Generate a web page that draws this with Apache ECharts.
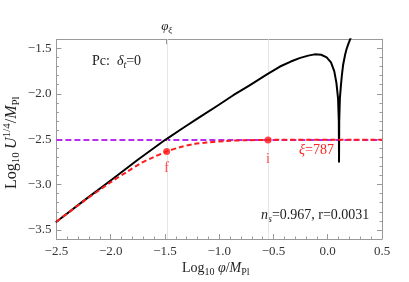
<!DOCTYPE html>
<html><head><meta charset="utf-8">
<script src="https://cdn.jsdelivr.net/npm/echarts@6/dist/echarts.min.js"></script>
<style>html,body{margin:0;padding:0;background:#fff}#c{width:409px;height:282px}</style>
</head><body><div id="c"></div>
<script>
const xRange = [-2.5, 0.5];
const yRange = [-3.6, -1.4];
const yMajorTicks = [-3.5, -3.0, -2.5, -2.0, -1.5];
const phiXi = -1.484;
const blackX = [-2.5,-2.25,-2.0,-1.75,-1.5,-1.33,-1.18,-1.02,-0.87,-0.72,-0.56,-0.44,-0.34,-0.26,-0.18,-0.12,-0.06,-0.01,0.03,0.06,0.08,0.095,0.102,0.104,0.106,0.112,0.12,0.13,0.142,0.16,0.173,0.19,0.213,0.25];
const blackY = [-3.41,-3.18,-2.955,-2.727,-2.51,-2.374,-2.257,-2.135,-2.016,-1.907,-1.786,-1.70,-1.645,-1.607,-1.58,-1.566,-1.57,-1.60,-1.655,-1.75,-1.88,-2.05,-2.3,-2.75,-2.3,-2.05,-1.93,-1.80,-1.68,-1.57,-1.51,-1.45,-1.38,-1.28];
const redX = [-2.5,-2.25,-2.0,-1.85,-1.73,-1.608,-1.484,-1.362,-1.24,-1.116,-0.932,-0.748,-0.55,0.5];
const redY = [-3.41,-3.185,-2.975,-2.86,-2.77,-2.70,-2.636,-2.59,-2.555,-2.537,-2.52,-2.512,-2.508,-2.506];
const plateauY = -2.508;
const pointNames = ['f', 'i'];
const pointX = [-1.484, -0.55];
const pointY = [-2.636, -2.508];

const serif = '"Liberation Serif","DejaVu Serif",serif';
const frame = '#9a9a9a';
const zip = (a, b) => a.map((v, i) => [v, b[i]]);
const isMajor = v => Math.abs(v * 2 - Math.round(v * 2)) < 1e-6;
const fmt = v => (v < -1e-9 ? '\u2212' : '') + Math.abs(v).toFixed(1);

function rich(size, color) {
  const sub = Math.round(size * 0.7);
  return {
    n: {fontFamily: serif, fontSize: size, color, fill: color, lineHeight: size + 4},
    i: {fontFamily: serif, fontSize: size, fontStyle: 'italic', color, fill: color, lineHeight: size + 4},
    s: {fontFamily: serif, fontSize: sub, color, fill: color, lineHeight: 4, verticalAlign: 'bottom'},
    si: {fontFamily: serif, fontSize: sub, fontStyle: 'italic', color, fill: color, lineHeight: 4, verticalAlign: 'bottom'},
    sup: {fontFamily: serif, fontSize: sub, color, fill: color, lineHeight: 6, verticalAlign: 'top'}
  };
}

function yAxisPair(pos, labels) {
  return [{
    type: 'value', position: pos, min: yRange[0], max: yRange[1], interval: 0.1,
    axisLine: {show: true, onZero: false, lineStyle: {color: frame, width: 1}},
    axisTick: {show: true, inside: true, length: 2.5, lineStyle: {color: frame}},
    axisLabel: {show: labels, formatter: v => isMajor(v) ? fmt(v) : '', fontFamily: serif, fontSize: 13, color: '#333', margin: 5},
    splitLine: {show: false}
  }, {
    type: 'value', position: pos, min: yRange[0], max: yRange[1],
    axisLine: {show: false, onZero: false},
    axisTick: {show: true, inside: true, length: 5, customValues: yMajorTicks, lineStyle: {color: frame}},
    axisLabel: {show: false},
    splitLine: {show: false}
  }];
}

const chart = echarts.init(document.getElementById('c'), null, {renderer: 'canvas'});
chart.setOption({
  animation: false,
  grid: {left: 56.4, right: 27, top: 39.3, bottom: 43, containLabel: false},
  xAxis: [{
    type: 'value', position: 'bottom', min: xRange[0], max: xRange[1], interval: 0.5,
    axisLine: {show: true, onZero: false, lineStyle: {color: frame, width: 1}},
    axisTick: {show: true, inside: true, length: 5, lineStyle: {color: frame}},
    minorTick: {show: true, splitNumber: 5, length: 2.5, lineStyle: {color: frame}},
    axisLabel: {formatter: fmt, fontFamily: serif, fontSize: 13, color: '#333', margin: 6},
    splitLine: {show: false}
  }, {
    type: 'value', position: 'top', min: xRange[0], max: xRange[1],
    axisLine: {show: true, onZero: false, lineStyle: {color: frame, width: 1}},
    axisTick: {show: true, inside: true, length: 5, customValues: [phiXi], lineStyle: {color: frame}},
    axisLabel: {show: true, customValues: [phiXi], formatter: () => '{i|\u03c6}{si|\u03be}', rich: rich(13, '#222'), margin: 4},
    splitLine: {show: false}
  }],
  yAxis: [...yAxisPair('left', true), ...yAxisPair('right', false)],
  series: [{
    type: 'line', data: [[xRange[0], plateauY], [xRange[1], plateauY]], symbol: 'none',
    lineStyle: {color: '#b82cf0', width: 2, type: [6, 3]}, z: 2,
    markLine: {
      silent: true, symbol: 'none', label: {show: false},
      lineStyle: {color: '#e6e6e6', width: 1, type: 'solid'},
      data: pointX.map(x => ({xAxis: x}))
    }
  }, {
    type: 'line', data: zip(blackX, blackY), symbol: 'none', showSymbol: false,
    lineStyle: {color: '#000', width: 2, cap: 'round', join: 'round'}, z: 10
  }, {
    type: 'line', data: zip(redX, redY), symbol: 'none', smooth: 0.3,
    lineStyle: {color: '#ff1a1a', width: 2, type: [5, 3]}, z: 11
  }, {
    type: 'scatter', symbolSize: 7, itemStyle: {color: '#ff1a1a'}, z: 12,
    data: pointNames.map((n, k) => ({
      value: [pointX[k], pointY[k]],
      label: {show: true, formatter: n, position: 'bottom', distance: k === 0 ? 6 : 9,
        fontFamily: serif, fontSize: 14, color: '#ff2020'}
    }))
  }],
  graphic: [{
    type: 'text', left: 92, top: 54,
    style: {text: '{n|Pc:  }{i|\u03b4}{si|t}{n|=0}', rich: rich(14, '#222')}
  }, {
    type: 'text', left: 261, top: 208,
    style: {text: '{i|n}{si|s}{n|=0.967, r=0.0031}', rich: rich(14, '#222')}
  }, {
    type: 'text', left: 299, top: 143,
    style: {text: '{i|\u03be}{n|=787}', fill: '#ff2020', rich: rich(14, '#ff2020')}
  }, {
    type: 'text', left: 182, top: 261,
    style: {text: '{n|Log}{s|10} {i|\u03c6}{n|/}{i|M}{s|Pl}', rich: rich(14, '#222')}
  }, {
    type: 'text', x: 2, y: 189, rotation: Math.PI / 2,
    style: {text: '{n|Log}{s|10} {i|U}{sup|1/4}{n|/}{i|M}{s|Pl}', rich: rich(16, '#222')}
  }]
});
</script></body></html>
